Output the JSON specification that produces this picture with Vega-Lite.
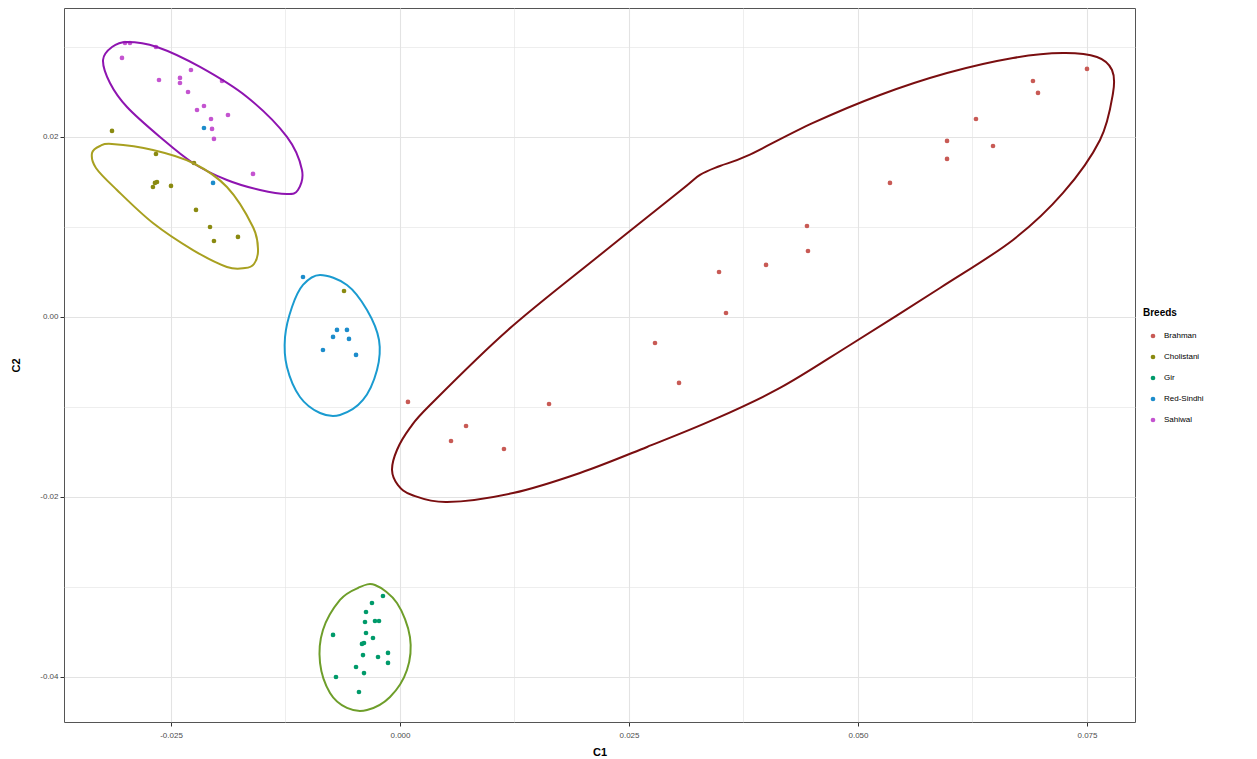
{
  "$schema": "https://vega.github.io/schema/vega-lite/v6.json",
  "autosize": {"type": "none"},
  "padding": {"left": 64, "top": 8, "right": 122, "bottom": 37},
  "width": 1071,
  "height": 714,
  "background": "white",
  "config": {
    "font": "Liberation Sans",
    "view": {"stroke": "#555555", "strokeWidth": 1}
  },
  "datasets": {
    "points": [
      {"breed": "Sahiwal", "C1": -0.03002, "C2": 0.03044},
      {"breed": "Sahiwal", "C1": -0.02948, "C2": 0.03044},
      {"breed": "Sahiwal", "C1": -0.02664, "C2": 0.03000},
      {"breed": "Sahiwal", "C1": -0.03035, "C2": 0.02878},
      {"breed": "Sahiwal", "C1": -0.02631, "C2": 0.02633},
      {"breed": "Sahiwal", "C1": -0.02402, "C2": 0.02656},
      {"breed": "Sahiwal", "C1": -0.02402, "C2": 0.02600},
      {"breed": "Sahiwal", "C1": -0.02282, "C2": 0.02744},
      {"breed": "Sahiwal", "C1": -0.02314, "C2": 0.02500},
      {"breed": "Sahiwal", "C1": -0.01943, "C2": 0.02622},
      {"breed": "Sahiwal", "C1": -0.02216, "C2": 0.02300},
      {"breed": "Sahiwal", "C1": -0.02140, "C2": 0.02344},
      {"breed": "Sahiwal", "C1": -0.02063, "C2": 0.02200},
      {"breed": "Sahiwal", "C1": -0.01878, "C2": 0.02244},
      {"breed": "Sahiwal", "C1": -0.02052, "C2": 0.02089},
      {"breed": "Sahiwal", "C1": -0.02031, "C2": 0.01978},
      {"breed": "Sahiwal", "C1": -0.01605, "C2": 0.01589},
      {"breed": "Red-Sindhi", "C1": -0.02140, "C2": 0.02100},
      {"breed": "Red-Sindhi", "C1": -0.02041, "C2": 0.01489},
      {"breed": "Red-Sindhi", "C1": -0.01059, "C2": 0.00444},
      {"breed": "Red-Sindhi", "C1": -0.00688, "C2": -0.00144},
      {"breed": "Red-Sindhi", "C1": -0.00579, "C2": -0.00144},
      {"breed": "Red-Sindhi", "C1": -0.00731, "C2": -0.00222},
      {"breed": "Red-Sindhi", "C1": -0.00557, "C2": -0.00244},
      {"breed": "Red-Sindhi", "C1": -0.00841, "C2": -0.00367},
      {"breed": "Red-Sindhi", "C1": -0.00480, "C2": -0.00422},
      {"breed": "Cholistani", "C1": -0.03144, "C2": 0.02067},
      {"breed": "Cholistani", "C1": -0.02664, "C2": 0.01811},
      {"breed": "Cholistani", "C1": -0.02249, "C2": 0.01711},
      {"breed": "Cholistani", "C1": -0.02675, "C2": 0.01489},
      {"breed": "Cholistani", "C1": -0.02653, "C2": 0.01500},
      {"breed": "Cholistani", "C1": -0.02697, "C2": 0.01444},
      {"breed": "Cholistani", "C1": -0.02500, "C2": 0.01456},
      {"breed": "Cholistani", "C1": -0.02227, "C2": 0.01189},
      {"breed": "Cholistani", "C1": -0.02074, "C2": 0.01000},
      {"breed": "Cholistani", "C1": -0.01769, "C2": 0.00889},
      {"breed": "Cholistani", "C1": -0.02031, "C2": 0.00844},
      {"breed": "Cholistani", "C1": -0.00611, "C2": 0.00289},
      {"breed": "Gir", "C1": -0.00186, "C2": -0.03100},
      {"breed": "Gir", "C1": -0.00306, "C2": -0.03178},
      {"breed": "Gir", "C1": -0.00371, "C2": -0.03278},
      {"breed": "Gir", "C1": -0.00382, "C2": -0.03389},
      {"breed": "Gir", "C1": -0.00273, "C2": -0.03378},
      {"breed": "Gir", "C1": -0.00229, "C2": -0.03378},
      {"breed": "Gir", "C1": -0.00731, "C2": -0.03533},
      {"breed": "Gir", "C1": -0.00371, "C2": -0.03511},
      {"breed": "Gir", "C1": -0.00295, "C2": -0.03567},
      {"breed": "Gir", "C1": -0.00393, "C2": -0.03622},
      {"breed": "Gir", "C1": -0.00415, "C2": -0.03633},
      {"breed": "Gir", "C1": -0.00404, "C2": -0.03756},
      {"breed": "Gir", "C1": -0.00240, "C2": -0.03778},
      {"breed": "Gir", "C1": -0.00131, "C2": -0.03733},
      {"breed": "Gir", "C1": -0.00131, "C2": -0.03844},
      {"breed": "Gir", "C1": -0.00480, "C2": -0.03889},
      {"breed": "Gir", "C1": -0.00393, "C2": -0.03956},
      {"breed": "Gir", "C1": -0.00699, "C2": -0.04000},
      {"breed": "Gir", "C1": -0.00448, "C2": -0.04167},
      {"breed": "Brahman", "C1": 0.00087, "C2": -0.00944},
      {"breed": "Brahman", "C1": 0.00721, "C2": -0.01211},
      {"breed": "Brahman", "C1": 0.00557, "C2": -0.01378},
      {"breed": "Brahman", "C1": 0.01135, "C2": -0.01467},
      {"breed": "Brahman", "C1": 0.01627, "C2": -0.00967},
      {"breed": "Brahman", "C1": 0.02784, "C2": -0.00289},
      {"breed": "Brahman", "C1": 0.03046, "C2": -0.00733},
      {"breed": "Brahman", "C1": 0.03483, "C2": 0.00500},
      {"breed": "Brahman", "C1": 0.03559, "C2": 0.00044},
      {"breed": "Brahman", "C1": 0.03996, "C2": 0.00578},
      {"breed": "Brahman", "C1": 0.04443, "C2": 0.01011},
      {"breed": "Brahman", "C1": 0.04454, "C2": 0.00733},
      {"breed": "Brahman", "C1": 0.05349, "C2": 0.01489},
      {"breed": "Brahman", "C1": 0.05972, "C2": 0.01956},
      {"breed": "Brahman", "C1": 0.05972, "C2": 0.01756},
      {"breed": "Brahman", "C1": 0.06474, "C2": 0.01900},
      {"breed": "Brahman", "C1": 0.06288, "C2": 0.02200},
      {"breed": "Brahman", "C1": 0.06910, "C2": 0.02622},
      {"breed": "Brahman", "C1": 0.06965, "C2": 0.02489},
      {"breed": "Brahman", "C1": 0.07500, "C2": 0.02756}
    ],
    "ellipses": [
      {"breed": "Sahiwal", "i": 0, "C1": -0.03242, "C2": 0.02856},
      {"breed": "Sahiwal", "i": 1, "C1": -0.03144, "C2": 0.03000},
      {"breed": "Sahiwal", "i": 2, "C1": -0.02980, "C2": 0.03056},
      {"breed": "Sahiwal", "i": 3, "C1": -0.02653, "C2": 0.03000},
      {"breed": "Sahiwal", "i": 4, "C1": -0.02183, "C2": 0.02778},
      {"breed": "Sahiwal", "i": 5, "C1": -0.01670, "C2": 0.02444},
      {"breed": "Sahiwal", "i": 6, "C1": -0.01234, "C2": 0.02000},
      {"breed": "Sahiwal", "i": 7, "C1": -0.01070, "C2": 0.01633},
      {"breed": "Sahiwal", "i": 8, "C1": -0.01114, "C2": 0.01411},
      {"breed": "Sahiwal", "i": 9, "C1": -0.01234, "C2": 0.01367},
      {"breed": "Sahiwal", "i": 10, "C1": -0.01528, "C2": 0.01411},
      {"breed": "Sahiwal", "i": 11, "C1": -0.01889, "C2": 0.01522},
      {"breed": "Sahiwal", "i": 12, "C1": -0.02260, "C2": 0.01711},
      {"breed": "Sahiwal", "i": 13, "C1": -0.02620, "C2": 0.02000},
      {"breed": "Sahiwal", "i": 14, "C1": -0.02980, "C2": 0.02333},
      {"breed": "Sahiwal", "i": 15, "C1": -0.03166, "C2": 0.02600},
      {"breed": "Cholistani", "i": 0, "C1": -0.03362, "C2": 0.01822},
      {"breed": "Cholistani", "i": 1, "C1": -0.03275, "C2": 0.01900},
      {"breed": "Cholistani", "i": 2, "C1": -0.03144, "C2": 0.01922},
      {"breed": "Cholistani", "i": 3, "C1": -0.02697, "C2": 0.01856},
      {"breed": "Cholistani", "i": 4, "C1": -0.02260, "C2": 0.01711},
      {"breed": "Cholistani", "i": 5, "C1": -0.01889, "C2": 0.01444},
      {"breed": "Cholistani", "i": 6, "C1": -0.01605, "C2": 0.01000},
      {"breed": "Cholistani", "i": 7, "C1": -0.01550, "C2": 0.00744},
      {"breed": "Cholistani", "i": 8, "C1": -0.01594, "C2": 0.00589},
      {"breed": "Cholistani", "i": 9, "C1": -0.01692, "C2": 0.00544},
      {"breed": "Cholistani", "i": 10, "C1": -0.01889, "C2": 0.00556},
      {"breed": "Cholistani", "i": 11, "C1": -0.02260, "C2": 0.00744},
      {"breed": "Cholistani", "i": 12, "C1": -0.02697, "C2": 0.01044},
      {"breed": "Cholistani", "i": 13, "C1": -0.03090, "C2": 0.01411},
      {"breed": "Cholistani", "i": 14, "C1": -0.03319, "C2": 0.01656},
      {"breed": "Red-Sindhi", "i": 0, "C1": -0.00873, "C2": 0.00467},
      {"breed": "Red-Sindhi", "i": 1, "C1": -0.00579, "C2": 0.00356},
      {"breed": "Red-Sindhi", "i": 2, "C1": -0.00360, "C2": 0.00078},
      {"breed": "Red-Sindhi", "i": 3, "C1": -0.00229, "C2": -0.00256},
      {"breed": "Red-Sindhi", "i": 4, "C1": -0.00251, "C2": -0.00589},
      {"breed": "Red-Sindhi", "i": 5, "C1": -0.00404, "C2": -0.00922},
      {"breed": "Red-Sindhi", "i": 6, "C1": -0.00655, "C2": -0.01089},
      {"breed": "Red-Sindhi", "i": 7, "C1": -0.00873, "C2": -0.01067},
      {"breed": "Red-Sindhi", "i": 8, "C1": -0.01092, "C2": -0.00889},
      {"breed": "Red-Sindhi", "i": 9, "C1": -0.01234, "C2": -0.00556},
      {"breed": "Red-Sindhi", "i": 10, "C1": -0.01255, "C2": -0.00222},
      {"breed": "Red-Sindhi", "i": 11, "C1": -0.01179, "C2": 0.00111},
      {"breed": "Red-Sindhi", "i": 12, "C1": -0.01059, "C2": 0.00356},
      {"breed": "Gir", "i": 0, "C1": -0.00273, "C2": -0.02978},
      {"breed": "Gir", "i": 1, "C1": -0.00033, "C2": -0.03178},
      {"breed": "Gir", "i": 2, "C1": 0.00109, "C2": -0.03556},
      {"breed": "Gir", "i": 3, "C1": 0.00076, "C2": -0.03922},
      {"breed": "Gir", "i": 4, "C1": -0.00109, "C2": -0.04222},
      {"breed": "Gir", "i": 5, "C1": -0.00360, "C2": -0.04367},
      {"breed": "Gir", "i": 6, "C1": -0.00579, "C2": -0.04344},
      {"breed": "Gir", "i": 7, "C1": -0.00764, "C2": -0.04178},
      {"breed": "Gir", "i": 8, "C1": -0.00873, "C2": -0.03844},
      {"breed": "Gir", "i": 9, "C1": -0.00841, "C2": -0.03478},
      {"breed": "Gir", "i": 10, "C1": -0.00655, "C2": -0.03144},
      {"breed": "Gir", "i": 11, "C1": -0.00459, "C2": -0.03011},
      {"breed": "Brahman", "i": 0, "C1": -0.00087, "C2": -0.01700},
      {"breed": "Brahman", "i": 1, "C1": -0.00033, "C2": -0.01478},
      {"breed": "Brahman", "i": 2, "C1": 0.00109, "C2": -0.01233},
      {"breed": "Brahman", "i": 3, "C1": 0.00328, "C2": -0.00978},
      {"breed": "Brahman", "i": 4, "C1": 0.01179, "C2": -0.00144},
      {"breed": "Brahman", "i": 5, "C1": 0.02183, "C2": 0.00689},
      {"breed": "Brahman", "i": 6, "C1": 0.03057, "C2": 0.01400},
      {"breed": "Brahman", "i": 7, "C1": 0.03275, "C2": 0.01578},
      {"breed": "Brahman", "i": 8, "C1": 0.03493, "C2": 0.01678},
      {"breed": "Brahman", "i": 9, "C1": 0.03788, "C2": 0.01789},
      {"breed": "Brahman", "i": 10, "C1": 0.04509, "C2": 0.02156},
      {"breed": "Brahman", "i": 11, "C1": 0.05240, "C2": 0.02467},
      {"breed": "Brahman", "i": 12, "C1": 0.05972, "C2": 0.02711},
      {"breed": "Brahman", "i": 13, "C1": 0.06692, "C2": 0.02878},
      {"breed": "Brahman", "i": 14, "C1": 0.07238, "C2": 0.02933},
      {"breed": "Brahman", "i": 15, "C1": 0.07609, "C2": 0.02889},
      {"breed": "Brahman", "i": 16, "C1": 0.07773, "C2": 0.02744},
      {"breed": "Brahman", "i": 17, "C1": 0.07784, "C2": 0.02489},
      {"breed": "Brahman", "i": 18, "C1": 0.07642, "C2": 0.01967},
      {"breed": "Brahman", "i": 19, "C1": 0.07238, "C2": 0.01378},
      {"breed": "Brahman", "i": 20, "C1": 0.06692, "C2": 0.00856},
      {"breed": "Brahman", "i": 21, "C1": 0.05895, "C2": 0.00322},
      {"breed": "Brahman", "i": 22, "C1": 0.04913, "C2": -0.00311},
      {"breed": "Brahman", "i": 23, "C1": 0.04148, "C2": -0.00789},
      {"breed": "Brahman", "i": 24, "C1": 0.03417, "C2": -0.01144},
      {"breed": "Brahman", "i": 25, "C1": 0.02697, "C2": -0.01444},
      {"breed": "Brahman", "i": 26, "C1": 0.01965, "C2": -0.01733},
      {"breed": "Brahman", "i": 27, "C1": 0.01234, "C2": -0.01956},
      {"breed": "Brahman", "i": 28, "C1": 0.00513, "C2": -0.02056},
      {"breed": "Brahman", "i": 29, "C1": 0.00131, "C2": -0.01978},
      {"breed": "Brahman", "i": 30, "C1": -0.00022, "C2": -0.01867}
    ]
  },
  "layer": [
    {
      "data": {"name": "points"},
      "mark": {"type": "point", "filled": true, "shape": "circle", "size": 22, "opacity": 1},
      "encoding": {
        "x": {
          "field": "C1", "type": "quantitative",
          "scale": {"domain": [-0.03668, 0.08024], "nice": false, "zero": false},
          "axis": {
            "title": "C1",
            "values": [-0.025, -0.0125, 0, 0.0125, 0.025, 0.0375, 0.05, 0.0625, 0.075],
            "labelExpr": "abs(datum.value/0.025 - round(datum.value/0.025)) < 0.01 ? replace(format(datum.value, '.3f'), '\u2212', '-') : ''",
            "domain": false,
            "grid": true,
            "gridColor": "#E3E3E3",
            "gridWidth": {"condition": {"test": "abs(datum.value/0.025 - round(datum.value/0.025)) < 0.01", "value": 1.1}, "value": 0.6},
            "tickOpacity": {"condition": {"test": "abs(datum.value/0.025 - round(datum.value/0.025)) < 0.01", "value": 1}, "value": 0},
            "tickColor": "#333333",
            "tickSize": 4,
            "labelColor": "#4D4D4D",
            "labelFontSize": 8,
            "labelPadding": 5,
            "titleFontSize": 11,
            "titleFontWeight": "bold",
            "titleColor": "#000000",
            "titlePadding": 7
          }
        },
        "y": {
          "field": "C2", "type": "quantitative",
          "scale": {"domain": [-0.045, 0.03433], "nice": false, "zero": false},
          "axis": {
            "title": "C2",
            "values": [-0.04, -0.03, -0.02, -0.01, 0, 0.01, 0.02, 0.03],
            "labelExpr": "abs(datum.value/0.02 - round(datum.value/0.02)) < 0.01 ? replace(format(datum.value, '.2f'), '\u2212', '-') : ''",
            "domain": false,
            "grid": true,
            "gridColor": "#E3E3E3",
            "gridWidth": {"condition": {"test": "abs(datum.value/0.02 - round(datum.value/0.02)) < 0.01", "value": 1.1}, "value": 0.6},
            "tickOpacity": {"condition": {"test": "abs(datum.value/0.02 - round(datum.value/0.02)) < 0.01", "value": 1}, "value": 0},
            "tickColor": "#333333",
            "tickSize": 4,
            "labelColor": "#4D4D4D",
            "labelFontSize": 8,
            "labelPadding": 2,
            "titleFontSize": 11,
            "titleFontWeight": "bold",
            "titleColor": "#000000",
            "titlePadding": 18
          }
        },
        "color": {
          "field": "breed", "type": "nominal",
          "scale": {
            "domain": ["Brahman", "Cholistani", "Gir", "Red-Sindhi", "Sahiwal"],
            "range": ["#C85A55", "#8A8A10", "#009A6A", "#1C8CCB", "#C454D0"]
          },
          "legend": {
            "title": "Breeds",
            "orient": "none",
            "legendX": 1079,
            "legendY": 300,
            "titleFontSize": 10,
            "titleFontWeight": "bold",
            "titleColor": "#000000",
            "titlePadding": 14,
            "labelFontSize": 8,
            "labelColor": "#000000",
            "symbolSize": 22,
            "symbolType": "circle",
            "symbolOffset": 6,
            "rowPadding": 13,
            "labelOffset": 7
          }
        }
      }
    },
    {
      "data": {"name": "ellipses"},
      "mark": {"type": "line", "interpolate": "cardinal-closed", "strokeWidth": 2},
      "encoding": {
        "x": {"field": "C1", "type": "quantitative"},
        "y": {"field": "C2", "type": "quantitative"},
        "detail": {"field": "breed", "type": "nominal"},
        "order": {"field": "i", "type": "quantitative"},
        "color": {
          "field": "breed", "type": "nominal",
          "scale": {
            "domain": ["Brahman", "Cholistani", "Gir", "Red-Sindhi", "Sahiwal"],
            "range": ["#7A0E10", "#A8A020", "#6E9E2A", "#1A9BD0", "#8E14B0"]
          },
          "legend": null
        }
      }
    }
  ],
  "resolve": {"scale": {"color": "independent"}}
}
